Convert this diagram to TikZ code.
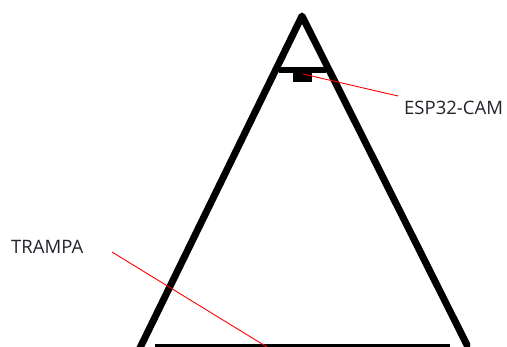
\documentclass[tikz,border=0pt]{standalone}
\usepackage{fontspec}
\setmainfont{Open Sans}
\begin{document}
\begin{tikzpicture}[x=1pt,y=-1pt,
  frame/.style={line width=7pt,line cap=round,line join=round},
  base/.style={line width=3pt},
  leader/.style={red,line width=0.9pt},
  lbl/.style={inner sep=0pt,anchor=west,font=\fontsize{18.5}{20}\selectfont,text={rgb,255:red,35;green,35;blue,45}}]
\useasboundingbox (0,0) rectangle (507,347);
\fill[white] (0,0) rectangle (507,347);
% triangle legs
\coordinate (apex) at (302,16);
\coordinate (lfoot) at (138,352);
\coordinate (rfoot) at (467,345);
\draw[frame] (lfoot) -- (apex) -- (rfoot);
% base
\draw[base] (155,346) -- (450,346);
% camera
\draw[line width=6pt] (279,70) -- (326,70);
\fill (293,72) rectangle (312,82);
% labels
\node[lbl] (esp) at (404,108) {ESP32-CAM};
\node[lbl] (trampa) at (11,247) {TRAMPA};
\coordinate (camtip) at (303,74);
\coordinate (espend) at (398,96);
\coordinate (trtip) at (112,252);
\coordinate (trend) at (267,347);
\draw[leader] (camtip) -- (espend);
\draw[leader] (trtip) -- (trend);
\end{tikzpicture}
\end{document}
